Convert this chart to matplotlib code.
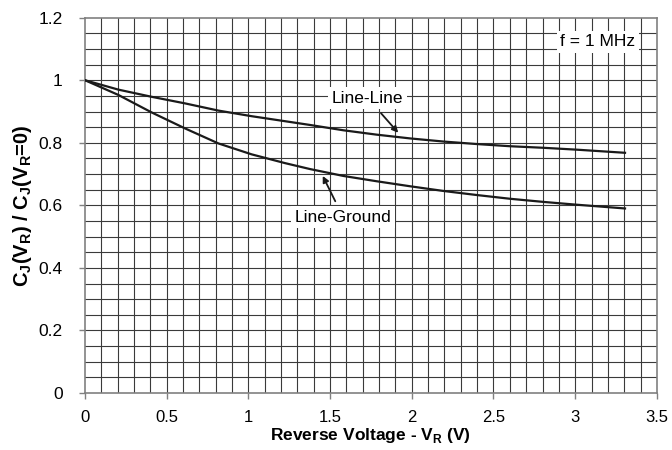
import matplotlib.pyplot as plt
import numpy as np

plt.rcParams['font.family'] = ['Liberation Sans', 'DejaVu Sans']

# Courbes (f = 1 MHz)
v_ll = [0, 0.204, 0.408, 0.612, 0.816, 1.02, 1.224, 1.377, 1.581, 1.785,
        1.989, 2.193, 2.397, 2.601, 2.805, 3.009, 3.305]
c_ll = [1.0, 0.970, 0.947, 0.926, 0.903, 0.885, 0.869, 0.857, 0.840, 0.826,
        0.814, 0.804, 0.796, 0.789, 0.784, 0.778, 0.768]

v_lg = [0, 0.204, 0.408, 0.612, 0.816, 1.02, 1.224, 1.377, 1.581, 1.785,
        1.989, 2.193, 2.397, 2.601, 2.805, 3.009, 3.305]
c_lg = [1.0, 0.953, 0.897, 0.846, 0.798, 0.763, 0.735, 0.716, 0.694, 0.677,
        0.661, 0.646, 0.633, 0.621, 0.611, 0.602, 0.590]

fig = plt.figure(figsize=(6.72, 4.5), dpi=100)
ax = fig.add_axes([0.1265, 0.1267, 0.851, 0.834])

ax.set_xlim(0, 3.5)
ax.set_ylim(0, 1.2)

# grille fine
for x in np.arange(0.1, 3.5, 0.1):
    ax.axvline(x, color='#3a3a3a', lw=0.8, zorder=1)
for y in np.arange(0.05, 1.2, 0.05):
    ax.axhline(y, color='#3a3a3a', lw=0.8, zorder=1)

ax.plot(v_ll, c_ll, color='#1a1a1a', lw=1.6, zorder=3)
ax.plot(v_lg, c_lg, color='#1a1a1a', lw=1.6, zorder=3)

box = dict(boxstyle='square,pad=0.2', fc='white', ec='none')
ax.annotate('Line-Line', xy=(1.917, 0.832), xytext=(1.73, 0.943),
            ha='center', va='center', fontsize=12.5, bbox=box, zorder=5,
            arrowprops=dict(arrowstyle='-|>', color='#1a1a1a', lw=1.3,
                            mutation_scale=9, shrinkA=4, shrinkB=0))
ax.annotate('Line-Ground', xy=(1.455, 0.694), xytext=(1.58, 0.562),
            ha='center', va='center', fontsize=12.5, bbox=box, zorder=5,
            arrowprops=dict(arrowstyle='-|>', color='#1a1a1a', lw=1.3,
                            mutation_scale=9, shrinkA=4, shrinkB=0))
ax.text(3.14, 1.123, 'f = 1 MHz', ha='center', va='center', fontsize=12.5,
        bbox=box, zorder=5)

ax.set_xticks(np.arange(0, 3.51, 0.5))
ax.set_yticks(np.arange(0, 1.21, 0.2))
ax.set_xticklabels(['0', '0.5', '1', '1.5', '2', '2.5', '3', '3.5'])
ax.set_yticklabels(['0', '0.2', '0.4', '0.6', '0.8', '1', '1.2'])
ax.tick_params(direction='out', length=4, width=1, color='#808080',
               labelsize=12.5)
ax.tick_params(axis='x', pad=8, labelsize=12)
ax.tick_params(axis='y', pad=12)

for s in ax.spines.values():
    s.set_color('#808080')
    s.set_linewidth(1.2)

ax.set_xlabel('Reverse Voltage - V$_\\mathregular{R}$ (V)', fontsize=12.5,
              fontweight='bold', labelpad=1)
ax.set_ylabel('C$_\\mathregular{J}$(V$_\\mathregular{R}$) / C$_\\mathregular{J}$(V$_\\mathregular{R}$=0)',
              fontsize=14.5, fontweight='bold', labelpad=3)

fig.savefig('out.png', dpi=100)
